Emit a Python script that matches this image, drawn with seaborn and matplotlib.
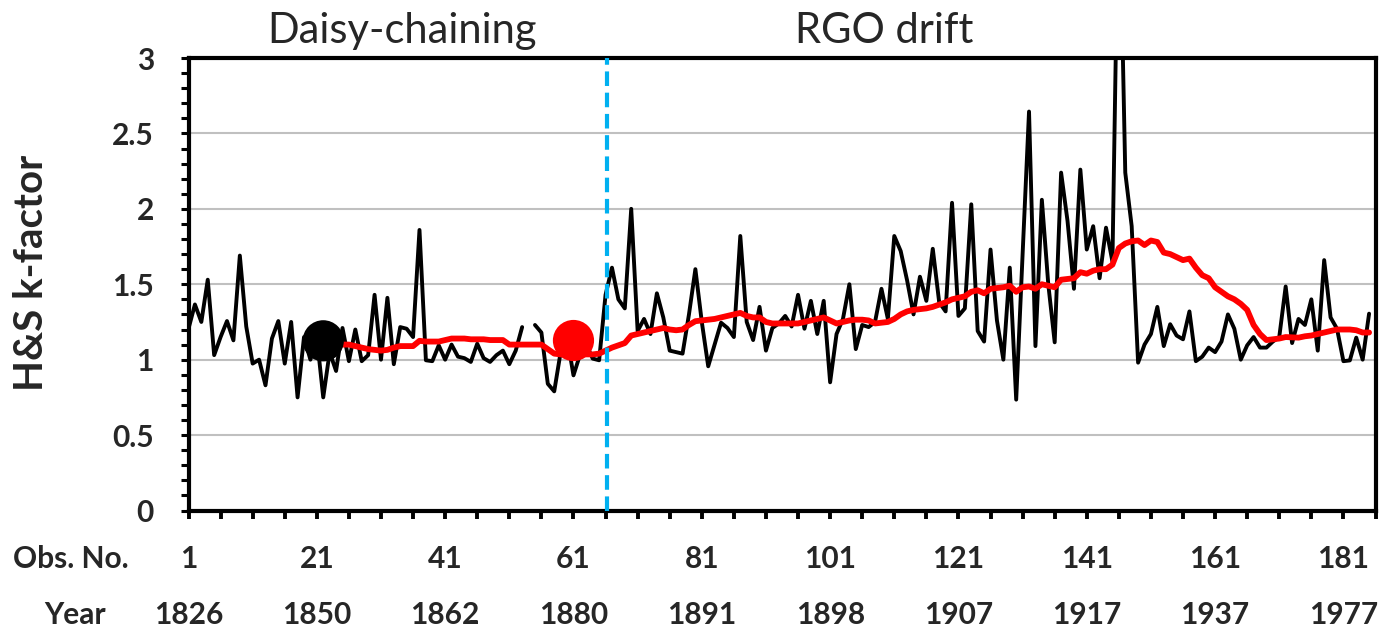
import numpy as np
import pandas as pd
import seaborn as sns
import matplotlib.pyplot as plt
from matplotlib.ticker import MultipleLocator, FixedLocator

# H&S k-factor per observation (obs 1..185), obs 54 missing
k_factor = [
    1.205, 1.366, 1.25, 1.53, 1.03, 1.15, 1.256, 1.128, 1.69, 1.22,
    0.974, 1.0, 0.83, 1.14, 1.256, 0.974, 1.25, 0.75, 1.15, 1.0,
    1.15, 0.75, 1.05, 0.925, 1.21, 0.99, 1.2, 0.99, 1.03, 1.43,
    1.0, 1.41, 0.97, 1.216, 1.205, 1.15, 1.86, 0.996, 0.99, 1.095,
    1.0, 1.10, 1.02, 1.01, 0.985, 1.106, 1.01, 0.985, 1.03, 1.06,
    0.97, 1.06, 1.216, np.nan, 1.23, 1.18, 0.84, 0.79, 1.05, 1.15,
    0.896, 1.03, 1.10, 1.007, 0.996, 1.43, 1.61, 1.40, 1.34, 2.0,
    1.19, 1.27, 1.17, 1.44, 1.28, 1.06, 1.05, 1.04, 1.30, 1.60,
    1.25, 0.956, 1.10, 1.245, 1.21, 1.15, 1.82, 1.25, 1.13, 1.35,
    1.06, 1.21, 1.24, 1.29, 1.22, 1.43, 1.205, 1.39, 1.17, 1.39,
    0.85, 1.17, 1.27, 1.50, 1.07, 1.23, 1.216, 1.25, 1.47, 1.27,
    1.82, 1.72, 1.525, 1.30, 1.55, 1.39, 1.735, 1.38, 1.32, 2.04,
    1.29, 1.34, 2.03, 1.19, 1.12, 1.73, 1.26, 1.0, 1.61, 0.735,
    1.7, 2.645, 1.09, 2.06, 1.5, 1.115, 2.24, 1.92, 1.47, 2.26,
    1.73, 1.885, 1.54, 1.875, 1.65, 4.3, 2.24, 1.885, 0.98, 1.10,
    1.17, 1.35, 1.09, 1.235, 1.16, 1.135, 1.32, 0.99, 1.02, 1.08,
    1.05, 1.12, 1.30, 1.205, 1.0, 1.095, 1.15, 1.08, 1.08, 1.12,
    1.15, 1.485, 1.11, 1.27, 1.23, 1.40, 1.06, 1.66, 1.28, 1.205,
    0.99, 0.995, 1.146, 1.0, 1.305,
]

# running mean (red), starts at obs 25
running_start = 25
running_mean = [
    1.10, 1.10, 1.09, 1.08, 1.07, 1.065, 1.06, 1.065, 1.08, 1.09,
    1.09, 1.09, 1.125, 1.12, 1.12, 1.12, 1.13, 1.14, 1.14, 1.14,
    1.135, 1.135, 1.135, 1.13, 1.13, 1.13, 1.10, 1.10, 1.10, 1.10,
    1.10, 1.10, 1.07, 1.04, 1.035, 1.035, 1.035, 1.035, 1.035, 1.035,
    1.04, 1.06, 1.08, 1.095, 1.11, 1.16, 1.17, 1.18, 1.19, 1.20,
    1.21, 1.20, 1.195, 1.20, 1.23, 1.255, 1.26, 1.265, 1.27, 1.28,
    1.29, 1.30, 1.31, 1.29, 1.28, 1.28, 1.25, 1.24, 1.24, 1.24,
    1.24, 1.24, 1.25, 1.26, 1.27, 1.28, 1.26, 1.24, 1.25, 1.26,
    1.265, 1.265, 1.26, 1.24, 1.245, 1.25, 1.27, 1.30, 1.32, 1.33,
    1.335, 1.34, 1.35, 1.365, 1.38, 1.40, 1.41, 1.42, 1.45, 1.46,
    1.44, 1.47, 1.475, 1.48, 1.49, 1.45, 1.48, 1.485, 1.47, 1.50,
    1.49, 1.48, 1.53, 1.535, 1.54, 1.58, 1.57, 1.59, 1.60, 1.60,
    1.63, 1.74, 1.77, 1.785, 1.79, 1.76, 1.79, 1.78, 1.71, 1.70,
    1.68, 1.66, 1.67, 1.61, 1.56, 1.54, 1.48, 1.45, 1.42, 1.40,
    1.37, 1.33, 1.23, 1.17, 1.13, 1.135, 1.14, 1.15, 1.148, 1.146,
    1.155, 1.16, 1.17, 1.18, 1.19, 1.20, 1.20, 1.20, 1.195, 1.18,
    1.18,
]

# highlighted points and the break between the two regimes
dot_obs = [22, 61]
dot_k = [1.125, 1.127]
dot_colors = ["black", "red"]
break_obs = 66.2

obs_labels = [1, 21, 41, 61, 81, 101, 121, 141, 161, 181]
year_labels = [1826, 1850, 1862, 1880, 1891, 1898, 1907, 1917, 1937, 1977]
regimes = ["Daisy-chaining", "RGO drift"]
regime_obs = [34.3, 109.4]

n_obs = len(k_factor)
df = pd.DataFrame({"obs": np.arange(1, n_obs + 1), "k": k_factor})
df["seg"] = df["k"].isna().cumsum()
df = df.dropna()
df_mean = pd.DataFrame({"obs": np.arange(running_start, running_start + len(running_mean)),
                        "k": running_mean})
df_dots = pd.DataFrame({"obs": dot_obs, "k": dot_k, "kind": ["a", "b"]})

sns.set_style("white")
plt.rcParams["font.family"] = ["Lato", "DejaVu Sans"]

fig = plt.figure(figsize=(13.83, 6.31), dpi=100)
W, H = 1383, 631
ax = fig.add_axes([188.5 / W, 1 - 510.5 / H, (1375.5 - 188.5) / W, (510.5 - 58) / H])

ax.grid(axis="y", color="#c0c0c0", linewidth=1.5)
ax.set_axisbelow(True)

sns.lineplot(data=df, x="obs", y="k", units="seg", estimator=None, color="black",
             linewidth=2.8, ax=ax, legend=False)
sns.lineplot(data=df_mean, x="obs", y="k", color="#ff0000", linewidth=4.2, ax=ax, legend=False)
ax.axvline(break_obs, color="#00b0f0", linewidth=3, dashes=(3.5, 1.6), zorder=4)
sns.scatterplot(data=df_dots, x="obs", y="k", hue="kind", palette=dot_colors, s=880,
                edgecolor="none", ax=ax, legend=False, zorder=5)

ax.set_xlim(1, 186)
ax.set_ylim(0, 3)

# axes frame
for sp in ax.spines.values():
    sp.set_visible(True)
    sp.set_color("black")
    sp.set_linewidth(3)

ax.yaxis.set_major_locator(MultipleLocator(0.5))
ax.yaxis.set_minor_locator(MultipleLocator(0.1))
ax.set_yticks([0, 0.5, 1, 1.5, 2, 2.5, 3], ["0", "0.5", "1", "1.5", "2", "2.5", "3"])
ax.tick_params(axis="y", which="both", direction="out", length=5.5, width=2.2,
               left=True, color="black")
ax.tick_params(axis="y", which="major", pad=19.5, labelsize=21.5)

ax.set_xticks(obs_labels, [str(o) for o in obs_labels])
ax.xaxis.set_minor_locator(FixedLocator(np.arange(1, 187, 5)))
ax.tick_params(axis="x", which="both", direction="out", length=6, width=2.8,
               bottom=True, color="black")
ax.tick_params(axis="x", which="major", pad=19, labelsize=21.5)
for lab in ax.get_xticklabels() + ax.get_yticklabels():
    lab.set_fontweight("bold")

# second row of x labels: years
sec = ax.secondary_xaxis(-56 / 452.5)
sec.set_xticks(obs_labels, [str(y) for y in year_labels])
sec.tick_params(axis="x", length=6, width=0, pad=19, labelsize=21.5)
sec.spines["bottom"].set_visible(False)
for lab in sec.get_xticklabels():
    lab.set_fontweight("bold")

ax.set_xlabel("")
ax.set_ylabel("")
fig.text(32 / W, 1 - 273 / H, "H&S k-factor", rotation=90, ha="center", va="center",
         fontsize=29, fontweight="bold")
fig.text(71 / W, 1 - 559 / H, "Obs. No.", ha="center", va="center",
         fontsize=21.5, fontweight="bold")
fig.text(75 / W, 1 - 615 / H, "Year", ha="center", va="center",
         fontsize=21.5, fontweight="bold")

for name, xo in zip(regimes, regime_obs):
    ax.text(xo, 1.0325, name, transform=ax.get_xaxis_transform(), ha="center",
            va="baseline", fontsize=30)

fig.savefig("out.png", dpi=100)
